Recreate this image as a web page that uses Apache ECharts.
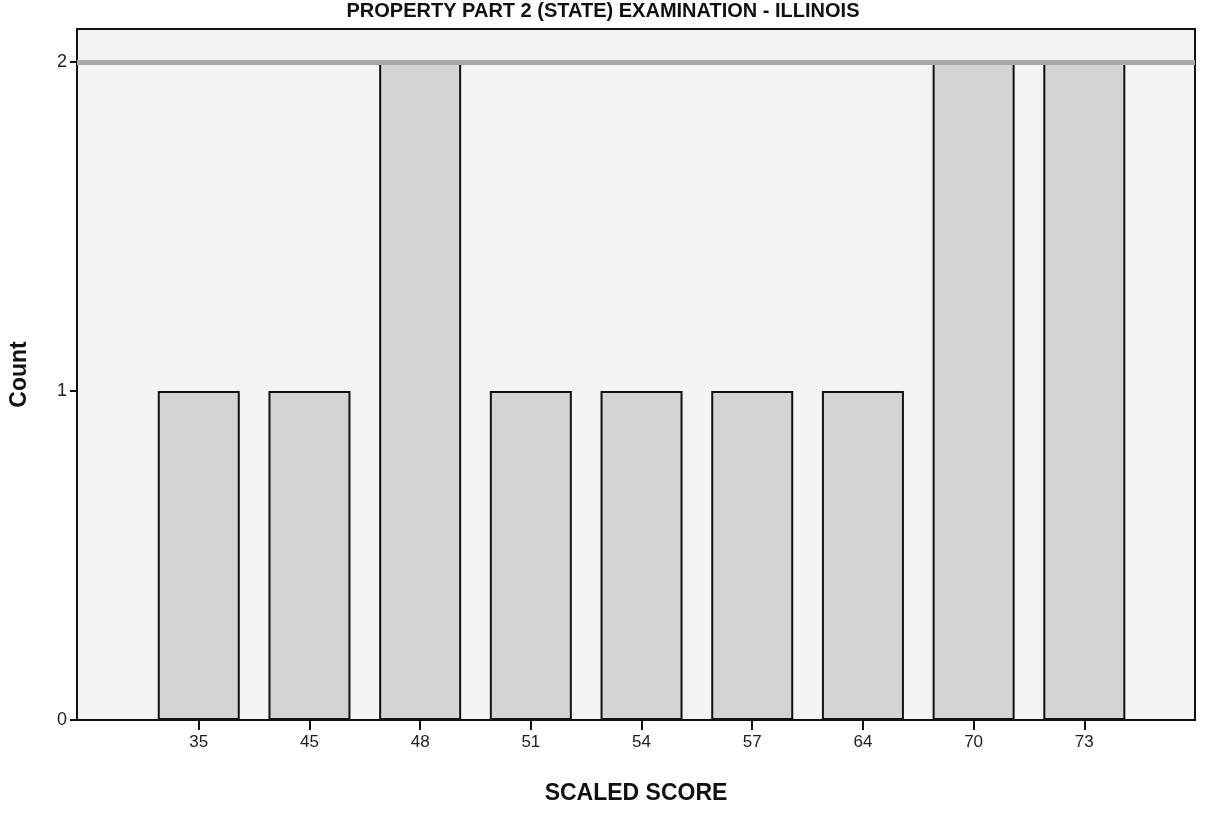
<!DOCTYPE html>
<html>
<head>
<meta charset="utf-8">
<script src="https://cdn.jsdelivr.net/npm/echarts@6/dist/echarts.min.js"></script>
<style>html,body{margin:0;padding:0;background:#fff}#c{width:1206px;height:814px}</style>
</head>
<body>
<div id="c"></div>
<script>
var titleText = 'PROPERTY PART 2 (STATE) EXAMINATION - ILLINOIS';
var categories = ['35', '45', '48', '51', '54', '57', '64', '70', '73'];
var counts = [1, 1, 2, 1, 1, 1, 1, 2, 2];
var yTicks = [0, 1, 2];
var referenceValue = 2;

var positions = categories.map(function (c, i) { return i + 1; });
var seriesData = counts.map(function (v, i) { return [positions[i], v]; });

var chart = echarts.init(document.getElementById('c'));
chart.setOption({
  animation: false,
  backgroundColor: '#ffffff',
  title: {
    text: titleText,
    left: 'center',
    top: -4,
    textStyle: { fontFamily: 'Liberation Sans, Arial, sans-serif', fontSize: 20, fontWeight: 'bold', color: '#111' }
  },
  grid: {
    left: 75, right: 11, top: 29, bottom: 94,
    show: true, backgroundColor: '#f4f4f4', borderColor: '#111', borderWidth: 2
  },
  xAxis: {
    type: 'value',
    min: -0.1, max: 10,
    name: 'SCALED SCORE',
    nameLocation: 'middle',
    nameGap: 62,
    nameTextStyle: { fontFamily: 'Liberation Sans, Arial, sans-serif', fontSize: 23, fontWeight: 'bold', color: '#111' },
    axisLine: { show: true, onZero: false, lineStyle: { color: '#111', width: 2 } },
    axisTick: { show: true, length: 10, lineStyle: { color: '#111', width: 2 }, customValues: positions },
    axisLabel: {
      customValues: positions,
      margin: 14,
      fontFamily: 'Liberation Sans, Arial, sans-serif', fontSize: 17, color: '#222',
      formatter: function (v) { var i = Math.round(v) - 1; return categories[i] || ''; }
    },
    splitLine: { show: false }
  },
  yAxis: {
    type: 'value',
    min: 0, max: 2.1,
    name: 'Count',
    nameLocation: 'middle',
    nameGap: 46,
    nameRotate: 90,
    nameTextStyle: { fontFamily: 'Liberation Sans, Arial, sans-serif', fontSize: 23, fontWeight: 'bold', color: '#111' },
    axisLine: { show: true, onZero: false, lineStyle: { color: '#111', width: 2 } },
    axisTick: { show: true, length: 7, lineStyle: { color: '#111', width: 2 }, customValues: yTicks },
    axisLabel: {
      customValues: yTicks,
      margin: 10,
      fontFamily: 'Liberation Sans, Arial, sans-serif', fontSize: 18, color: '#222'
    },
    splitLine: { show: false }
  },
  series: [{
    type: 'bar',
    data: seriesData,
    barWidth: 82,
    itemStyle: { color: '#d4d4d4', borderColor: '#111', borderWidth: 2 },
    markLine: {
      silent: true,
      symbol: 'none',
      label: { show: false },
      lineStyle: { color: '#aaaaaa', width: 5, type: 'solid' },
      data: [{ yAxis: referenceValue }]
    }
  }]
});
</script>
</body>
</html>
